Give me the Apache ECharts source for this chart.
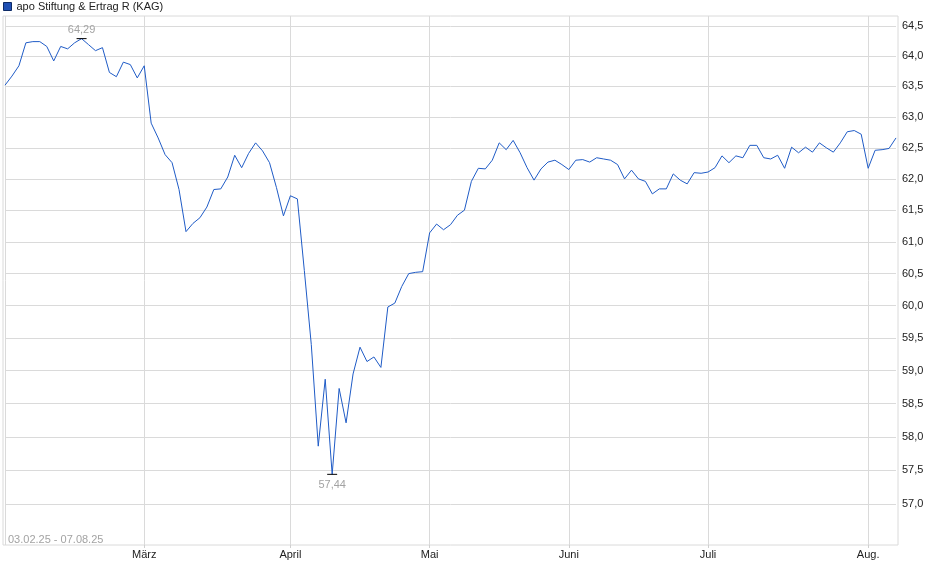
<!DOCTYPE html>
<html>
<head>
<meta charset="utf-8">
<title>apo Stiftung & Ertrag R (KAG)</title>
<script src="https://cdn.jsdelivr.net/npm/echarts@6/dist/echarts.min.js"></script>
<style>
    html, body { margin: 0; padding: 0; background: #fff; }
    #chart { width: 940px; height: 579px; }
</style>
</head>
<body>
<div id="chart"></div>
<script>
// Handelstage 03.02.25 - 07.08.25
var dates = [
    '03.02.', '04.02.', '05.02.', '06.02.', '07.02.', '10.02.', '11.02.', '12.02.', '13.02.', '14.02.',
    '17.02.', '18.02.', '19.02.', '20.02.', '21.02.', '24.02.', '25.02.', '26.02.', '27.02.', '28.02.',
    '03.03.', '04.03.', '05.03.', '06.03.', '07.03.', '10.03.', '11.03.', '12.03.', '13.03.', '14.03.',
    '17.03.', '18.03.', '19.03.', '20.03.', '21.03.', '24.03.', '25.03.', '26.03.', '27.03.', '28.03.', '31.03.',
    '01.04.', '02.04.', '03.04.', '04.04.', '07.04.', '08.04.', '09.04.', '10.04.', '11.04.', '14.04.',
    '15.04.', '16.04.', '17.04.', '22.04.', '23.04.', '24.04.', '25.04.', '28.04.', '29.04.', '30.04.',
    '02.05.', '05.05.', '06.05.', '07.05.', '08.05.', '09.05.', '12.05.', '13.05.', '14.05.', '15.05.',
    '16.05.', '19.05.', '20.05.', '21.05.', '22.05.', '23.05.', '26.05.', '27.05.', '28.05.', '30.05.',
    '02.06.', '03.06.', '04.06.', '05.06.', '06.06.', '10.06.', '11.06.', '12.06.', '13.06.', '16.06.',
    '17.06.', '18.06.', '19.06.', '20.06.', '23.06.', '24.06.', '25.06.', '26.06.', '27.06.', '30.06.',
    '01.07.', '02.07.', '03.07.', '04.07.', '07.07.', '08.07.', '09.07.', '10.07.', '11.07.', '14.07.',
    '15.07.', '16.07.', '17.07.', '18.07.', '21.07.', '22.07.', '23.07.', '24.07.', '25.07.', '28.07.',
    '29.07.', '30.07.', '31.07.',
    '01.08.', '04.08.', '05.08.', '06.08.', '07.08.'
];

// Kurs in EUR
var prices = [
    63.52, 63.67, 63.84, 64.22, 64.24, 64.24, 64.16, 63.92, 64.16, 64.12,
    64.22, 64.29, 64.19, 64.09, 64.14, 63.73, 63.66, 63.90, 63.86, 63.64,
    63.84, 62.90, 62.66, 62.39, 62.26, 61.83, 61.16, 61.29, 61.38, 61.55,
    61.83, 61.84, 62.03, 62.38, 62.18, 62.41, 62.58, 62.45, 62.26, 61.86, 61.41,
    61.73, 61.68, 60.55, 59.40, 57.86, 58.87, 57.44, 58.73, 58.21, 58.95,
    59.36, 59.14, 59.21, 59.05, 59.98, 60.04, 60.30, 60.50, 60.52, 60.53,
    61.14, 61.28, 61.19, 61.27, 61.42, 61.50, 61.96, 62.17, 62.16, 62.30,
    62.58, 62.47, 62.62, 62.42, 62.18, 61.98, 62.16, 62.27, 62.30, 62.23,
    62.15, 62.30, 62.31, 62.27, 62.34, 62.32, 62.30, 62.23, 62.00, 62.14,
    62.00, 61.96, 61.76, 61.84, 61.84, 62.08, 61.98, 61.92, 62.10, 62.09,
    62.11, 62.18, 62.37, 62.26, 62.37, 62.34, 62.54, 62.54, 62.34, 62.32,
    62.38, 62.17, 62.51, 62.42, 62.51, 62.43, 62.58, 62.50, 62.43, 62.58,
    62.76, 62.78, 62.72,
    62.17, 62.46, 62.47, 62.49, 62.66
];

var monthKeys = ['03', '04', '05', '06', '07', '08'];
var monthLabels = ['März', 'April', 'Mai', 'Juni', 'Juli', 'Aug.'];

var yTicks = [57.0, 57.5, 58.0, 58.5, 59.0, 59.5, 60.0, 60.5, 61.0, 61.5, 62.0, 62.5, 63.0, 63.5, 64.0, 64.5];
var yRange = [56.40, 64.667];

var seriesName = 'apo Stiftung & Ertrag R (KAG)';
var rangeText = '03.02.25 - 07.08.25';

function isMonthStart(i) {
    return i > 0 && dates[i].slice(3, 5) !== dates[i - 1].slice(3, 5);
}

function fmt(v, digits) {
    return v.toFixed(digits).replace('.', ',');
}

var myChart = echarts.init(document.getElementById('chart'));
var font = '"Liberation Sans", Arial, sans-serif';

var option = {
    animation: false,
    textStyle: { fontFamily: font },
    title: {
        text: rangeText,
        left: 8,
        top: 534,
        padding: 0,
        textStyle: { fontSize: 11, fontWeight: 'normal', color: '#a3a3a3', fontFamily: font }
    },
    legend: {
        data: [seriesName],
        left: 0,
        top: 0,
        padding: [1, 3],
        icon: 'rect',
        itemWidth: 8,
        itemHeight: 8,
        itemStyle: { color: '#1f4fb3', borderColor: '#0d2a66', borderWidth: 1 },
        textStyle: { fontSize: 11, color: '#222', fontFamily: font }
    },
    grid: [
        { left: 5, right: 44, top: 16, bottom: 34, containLabel: false },
        { left: 3, right: 42, top: 16, bottom: 34, show: true, borderColor: '#dadada', borderWidth: 1, backgroundColor: 'transparent' }
    ],
    xAxis: [
        {
            type: 'category',
            data: dates,
            boundaryGap: false,
            axisLine: { show: false },
            axisTick: {
                show: true,
                length: 3,
                interval: function (i) { return isMonthStart(i); },
                lineStyle: { color: '#cfcfcf' }
            },
            axisLabel: {
                interval: function (i) { return isMonthStart(i); },
                margin: 4,
                fontSize: 11,
                color: '#222',
                formatter: function (val) {
                    var k = monthKeys.indexOf(val.slice(3, 5));
                    return k >= 0 ? monthLabels[k] : '';
                }
            },
            splitLine: {
                show: true,
                interval: function (i) { return i === 0 || isMonthStart(i); },
                lineStyle: { color: '#dadada', width: 1 }
            }
        },
        { type: 'value', gridIndex: 1, show: false }
    ],
    yAxis: [
        {
            type: 'value',
            position: 'right',
            min: Math.log(yRange[0]),
            max: Math.log(yRange[1]),
            axisLine: { show: false },
            axisTick: { show: false, customValues: yTicks.map(Math.log) },
            axisLabel: {
                customValues: yTicks.map(Math.log),
                margin: 6,
                fontSize: 11,
                color: '#222',
                formatter: function (v) { return fmt(Math.exp(v), 1); }
            },
            splitLine: { show: true, lineStyle: { color: '#dadada', width: 1 } }
        },
        { type: 'value', gridIndex: 1, show: false }
    ],
    series: [
        {
            name: seriesName,
            type: 'line',
            data: prices.map(Math.log),
            showSymbol: false,
            symbol: 'none',
            lineStyle: { color: '#1f5bc6', width: 1 },
            itemStyle: { color: '#1f4fb3' },
            markPoint: {
                symbol: 'rect',
                symbolSize: [10, 1],
                itemStyle: { color: '#000' },
                label: {
                    show: true,
                    fontSize: 11,
                    color: '#a3a3a3',
                    formatter: function (p) { return fmt(Math.exp(p.value), 2); }
                },
                data: [
                    { type: 'max', name: 'max', label: { position: 'top', distance: 3 } },
                    { type: 'min', name: 'min', label: { position: 'bottom', distance: 5 } }
                ]
            }
        }
    ]
};

myChart.setOption(option);
</script>
</body>
</html>
